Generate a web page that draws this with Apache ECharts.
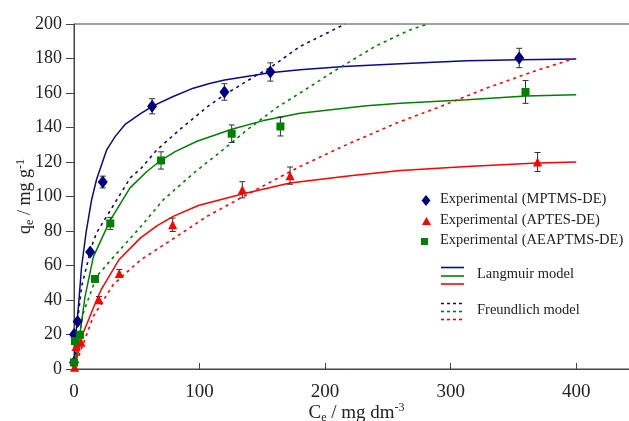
<!DOCTYPE html>
<html>
<head>
<meta charset="utf-8">
<script src="https://cdn.jsdelivr.net/npm/echarts@6/dist/echarts.min.js"></script>
<style>
  html, body { margin: 0; padding: 0; background: #fff; }
  #chart { width: 629px; height: 421px; }
</style>
</head>
<body>
<div id="chart"></div>
<script>
// Experimental equilibrium data: Ce (mg dm-3), qe (mg g-1), error (mg g-1)
const ceMPTMS  = [0, 0, 2.9, 12.9, 22.9, 62.2, 119.8, 156.4, 354.6];
const qeMPTMS  = [3.7, 20, 27.6, 67.8, 108.4, 152.3, 160.6, 172.2, 180.3];
const errMPTMS = [0, 0, 0, 0, 3.4, 4.4, 4.8, 5.3, 5.6];

const ceAPTES  = [0.5, 1.6, 5.6, 19.9, 36.1, 78.6, 134.1, 172.1, 369.2];
const qeAPTES  = [1, 13, 15.5, 40.2, 55.4, 83.6, 103.9, 112.1, 120];
const errAPTES = [0, 0, 0, 1.8, 2.3, 3.9, 4.7, 5.0, 5.5];

const ceAEAPTMS  = [0, 0.8, 4.8, 16.7, 28.9, 69.3, 125.6, 164.4, 359.6];
const qeAEAPTMS  = [3.8, 16.2, 19.9, 52.2, 84.4, 120.9, 136.4, 140.6, 160.6];
const errAEAPTMS = [0, 0, 0, 1.5, 3.5, 5.0, 5.1, 5.5, 6.6];

// Langmuir model curves
const langCeMPTMS = [0, 1.6, 3.5, 6, 9.6, 14, 18, 26, 33, 41, 53, 63, 79, 95, 108, 120, 156, 180, 215, 260, 313, 355, 400];
const langQeMPTMS = [0, 21, 36, 59, 79, 98, 110, 127, 135, 142, 148, 152.5, 158, 162.8, 165.5, 167.5, 171.8, 173.5, 175.4, 177, 178.7, 179.3, 179.7];

const langCeAEAPTMS = [0, 4.8, 8.8, 15.4, 28.7, 44.6, 58, 69.3, 80.5, 98, 125.6, 150.8, 180, 233, 260, 313, 360, 400];
const langQeAEAPTMS = [0, 21, 42, 65, 86, 105, 114.5, 121, 126, 132, 139, 144, 148.2, 152.6, 154, 156.1, 158.2, 159];

const langCeAPTES = [0, 7.4, 18, 22, 36, 53, 66, 79, 99, 134, 172, 220, 260, 313, 369, 400];
const langQeAPTES = [0, 21, 40, 46.5, 63.5, 76, 83, 88.5, 94.8, 101.5, 107.8, 112, 115.1, 117.4, 119.4, 120];

// Freundlich model curves
const freuCeMPTMS = [0, 2.7, 6.1, 14, 18, 45, 53, 66, 84.5, 108, 120, 146, 156, 180, 216];
const freuQeMPTMS = [0, 27, 48, 71, 79, 111, 116, 127, 139, 153, 159, 170.6, 174.5, 187, 200];

const freuCeAEAPTMS = [0, 7.4, 18, 34, 52, 71, 96, 116, 138, 161, 180, 209, 241, 268, 282];
const freuQeAEAPTMS = [0, 32.5, 53.7, 67, 81.5, 98, 114, 125.5, 138.7, 151.3, 160, 173.5, 187.5, 196.7, 200];

const freuCeAPTES = [0, 15.4, 31.3, 52.6, 79, 106, 140, 180, 220, 257, 292, 329, 366, 398];
const freuQeAPTES = [0, 30.5, 49, 63, 75.5, 88.5, 102, 117.4, 131, 142.6, 152.2, 162.9, 172.5, 179.9];

// Axis ticks
const xTicks = [0, 100, 200, 300, 400];
const yTicks = [0, 20, 40, 60, 80, 100, 120, 140, 160, 180, 200];

const FONT = 'Liberation Serif';
const BLUE = '#0a0a86';
const GREEN = '#008000';
const RED = '#ff0000';

const pairs = (xs, ys) => xs.map((x, i) => [x, ys[i]]);
const triples = (xs, ys, es) => xs.map((x, i) => [x, ys[i], es[i]]);

function modelLine(name, xs, ys, color, dashed) {
  return {
    name, type: 'line', data: pairs(xs, ys),
    showSymbol: false, symbol: 'none', smooth: false, clip: true,
    lineStyle: { color, width: dashed ? 1.6 : 1.5, type: dashed ? [3, 4] : 'solid' },
    z: 2, silent: true
  };
}

function errorBars(xs, ys, es) {
  return {
    type: 'custom', silent: true, z: 3,
    data: triples(xs, ys, es).filter(d => d[2] > 0),
    renderItem(params, api) {
      const x = api.value(0), y = api.value(1), e = api.value(2);
      const hi = api.coord([x, y + e]);
      const lo = api.coord([x, y - e]);
      const cap = 3;
      const style = { stroke: '#333', lineWidth: 1 };
      return {
        type: 'group',
        children: [
          { type: 'line', shape: { x1: hi[0], y1: hi[1], x2: lo[0], y2: lo[1] }, style },
          { type: 'line', shape: { x1: hi[0] - cap, y1: hi[1], x2: hi[0] + cap, y2: hi[1] }, style },
          { type: 'line', shape: { x1: lo[0] - cap, y1: lo[1], x2: lo[0] + cap, y2: lo[1] }, style }
        ]
      };
    }
  };
}

function points(name, xs, ys, symbol, size, color) {
  return {
    name, type: 'scatter', data: pairs(xs, ys), symbol, symbolSize: size,
    itemStyle: { color, opacity: 1 }, z: 4, silent: true, clip: false
  };
}

const nameRich = (size) => ({
  n: { fontFamily: FONT, fontSize: size, color: '#222', lineHeight: size + 3 },
  s: { fontFamily: FONT, fontSize: 12, color: '#222', lineHeight: 12, verticalAlign: 'bottom' },
  p: { fontFamily: FONT, fontSize: 12, color: '#222', lineHeight: 12, verticalAlign: 'top' }
});

// Legend drawn as graphic elements (shared lines for the model entries)
const legendText = (x, y, text) => ({
  type: 'text', left: x, top: y - 9,
  style: { text, font: '14.5px "' + FONT + '"', fill: '#222' }
});
const legendLine = (y, color, dashed) => ({
  type: 'line', shape: { x1: 441, y1: y, x2: 464, y2: y },
  style: { stroke: color, lineWidth: 1.6, lineDash: dashed ? [3, 3] : null }
});

const chart = echarts.init(document.getElementById('chart'), null, { renderer: 'canvas' });
chart.setOption({
  animation: false,
  backgroundColor: '#fff',
  grid: {
    left: 74, top: 24, bottom: 52, right: -10,
    show: true, borderColor: '#444', borderWidth: 1,
    containLabel: false, outerBoundsMode: 'none'
  },
  xAxis: {
    type: 'value', min: 0, max: 450, interval: 100,
    name: '{n|C}{s|e}{n| / mg dm}{p|-3}', nameLocation: 'middle', nameGap: 33,
    nameMoveOverlap: false,
    nameTextStyle: { rich: nameRich(19) },
    axisLine: { show: true, lineStyle: { color: '#444', width: 1 } },
    axisTick: { show: true, inside: true, length: 6, lineStyle: { color: '#444' } },
    splitLine: { show: false },
    axisLabel: {
      margin: 14, fontFamily: FONT, fontSize: 19, color: '#222',
      formatter: v => (xTicks.includes(v) ? String(v) : '')
    }
  },
  yAxis: {
    type: 'value', min: 0, max: 200, interval: 20,
    name: '{n|q}{s|e}{n| / mg g}{p|-1}', nameLocation: 'middle', nameGap: 38,
    nameMoveOverlap: false,
    nameTextStyle: { rich: nameRich(18) },
    axisLine: { show: true, lineStyle: { color: '#444', width: 1 } },
    axisTick: { show: true, inside: false, length: 8, lineStyle: { color: '#444' } },
    splitLine: { show: false },
    axisLabel: {
      margin: 12, fontFamily: FONT, fontSize: 18, color: '#222',
      formatter: v => (yTicks.includes(v) ? String(v) : '')
    }
  },
  series: [
    modelLine('Langmuir MPTMS-DE', langCeMPTMS, langQeMPTMS, BLUE, false),
    modelLine('Langmuir AEAPTMS-DE', langCeAEAPTMS, langQeAEAPTMS, GREEN, false),
    modelLine('Langmuir APTES-DE', langCeAPTES, langQeAPTES, RED, false),
    modelLine('Freundlich MPTMS-DE', freuCeMPTMS, freuQeMPTMS, BLUE, true),
    modelLine('Freundlich AEAPTMS-DE', freuCeAEAPTMS, freuQeAEAPTMS, GREEN, true),
    modelLine('Freundlich APTES-DE', freuCeAPTES, freuQeAPTES, RED, true),
    errorBars(ceMPTMS, qeMPTMS, errMPTMS),
    errorBars(ceAPTES, qeAPTES, errAPTES),
    errorBars(ceAEAPTMS, qeAEAPTMS, errAEAPTMS),
    points('Experimental (MPTMS-DE)', ceMPTMS, qeMPTMS, 'diamond', [10, 13], '#000080'),
    points('Experimental (APTES-DE)', ceAPTES, qeAPTES, 'triangle', [9, 9], RED),
    points('Experimental (AEAPTMS-DE)', ceAEAPTMS, qeAEAPTMS, 'rect', [8, 8], GREEN)
  ],
  graphic: [
    { type: 'polygon', shape: { points: [[426, 195], [430.5, 200.5], [426, 206], [421.5, 200.5]] }, style: { fill: '#000080' } },
    { type: 'polygon', shape: { points: [[426.5, 217], [431, 225], [422, 225]] }, style: { fill: RED } },
    { type: 'rect', shape: { x: 421, y: 238, width: 7, height: 7 }, style: { fill: GREEN } },
    legendText(440, 201, 'Experimental (MPTMS-DE)'),
    legendText(440, 222, 'Experimental (APTES-DE)'),
    legendText(440, 242, 'Experimental (AEAPTMS-DE)'),
    legendLine(267.5, BLUE, false),
    legendLine(276, GREEN, false),
    legendLine(284, RED, false),
    legendText(477, 276, 'Langmuir model'),
    legendLine(303.5, BLUE, true),
    legendLine(311.5, GREEN, true),
    legendLine(319.5, RED, true),
    legendText(477, 312, 'Freundlich model')
  ]
});
</script>
</body>
</html>
